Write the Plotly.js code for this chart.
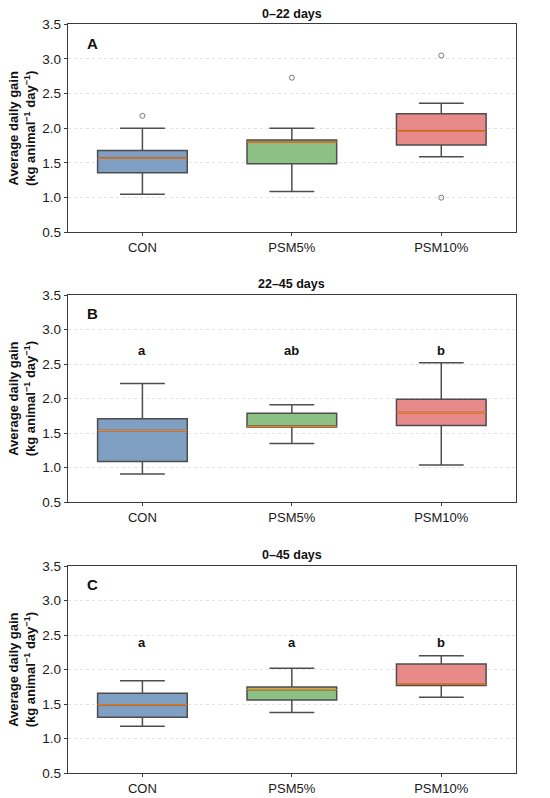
<!DOCTYPE html>
<html>
<head>
<meta charset="utf-8">
<script src="https://cdn.plot.ly/plotly-3.0.1.min.js"></script>
<style>html,body{margin:0;padding:0;background:#fff;}#chart{width:550px;height:798px;}</style>
</head>
<body>
<div id="chart"></div>
<script>
// ---- data ----
const categories = ['CON', 'PSM5%', 'PSM10%'];
const panelTitles = ['0\u201322 days', '22\u201345 days', '0\u201345 days'];
const panelLetters = ['A', 'B', 'C'];

// Panel A: 0–22 days
const A_lower  = [1.05, 1.09, 1.59];
const A_q1     = [1.36, 1.49, 1.76];
const A_median = [1.57, 1.80, 1.96];
const A_q3     = [1.68, 1.83, 2.21];
const A_upper  = [2.00, 2.00, 2.36];
const A_outX   = ['CON', 'PSM5%', 'PSM10%', 'PSM10%'];
const A_outY   = [2.18, 2.73, 3.05, 1.00];
const A_sig    = [];
const A_sigY   = null;

// Panel B: 22–45 days
const B_lower  = [0.91, 1.35, 1.04];
const B_q1     = [1.09, 1.59, 1.61];
const B_median = [1.54, 1.60, 1.80];
const B_q3     = [1.71, 1.79, 1.99];
const B_upper  = [2.22, 1.91, 2.52];
const B_outX   = [];
const B_outY   = [];
const B_sig    = ['a', 'ab', 'b'];
const B_sigY   = 2.70;

// Panel C: 0–45 days
const C_lower  = [1.18, 1.38, 1.60];
const C_q1     = [1.31, 1.56, 1.77];
const C_median = [1.49, 1.71, 1.79];
const C_q3     = [1.66, 1.75, 2.08];
const C_upper  = [1.84, 2.02, 2.20];
const C_outX   = [];
const C_outY   = [];
const C_sig    = ['a', 'a', 'b'];
const C_sigY   = 2.39;

const yTickVals = [0.5, 1.0, 1.5, 2.0, 2.5, 3.0, 3.5];

// ---- styling ----
const fills = ['#7F9FC3', '#8CC084', '#E8898A'];
const FONT = 'Liberation Sans, Arial, Helvetica, sans-serif';
const panels = [
  {lower: A_lower, q1: A_q1, med: A_median, q3: A_q3, upper: A_upper, outX: A_outX, outY: A_outY, sig: A_sig, sigY: A_sigY},
  {lower: B_lower, q1: B_q1, med: B_median, q3: B_q3, upper: B_upper, outX: B_outX, outY: B_outY, sig: B_sig, sigY: B_sigY},
  {lower: C_lower, q1: C_q1, med: C_median, q3: C_q3, upper: C_upper, outX: C_outX, outY: C_outY, sig: C_sig, sigY: C_sigY}
];

const W = 550, H = 798;
const xDom = [67.7 / W, 516 / W];
const panelPx = [[24.3, 232.3], [295, 502.3], [566, 773.3]];
const titlePx = [14, 284, 555];

const traces = [];
const layout = {
  width: W, height: H,
  margin: {l: 0, r: 0, t: 0, b: 0},
  paper_bgcolor: '#ffffff', plot_bgcolor: '#ffffff',
  showlegend: false,
  boxmode: 'overlay',
  font: {family: FONT, color: '#1a1a1a', size: 13},
  annotations: []
};

panels.forEach((p, i) => {
  const n = i + 1;
  const xa = n === 1 ? 'x' : 'x' + n;
  const ya = n === 1 ? 'y' : 'y' + n;
  categories.forEach((c, j) => {
    traces.push({
      type: 'box', xaxis: xa, yaxis: ya,
      x: [c], q1: [p.q1[j]], median: [p.med[j]], q3: [p.q3[j]],
      lowerfence: [p.lower[j]], upperfence: [p.upper[j]],
      fillcolor: fills[j], line: {color: '#4d4d4d', width: 1.5},
      width: 0.6, whiskerwidth: 0.5, boxpoints: false, hoverinfo: 'skip'
    });
  });
  // median lines (orange) drawn as flat boxes
  traces.push({
    type: 'box', xaxis: xa, yaxis: ya,
    x: categories, q1: p.med, median: p.med, q3: p.med,
    lowerfence: p.med, upperfence: p.med,
    fillcolor: 'rgba(0,0,0,0)', line: {color: '#FF7F0E', width: 1.2},
    width: 0.6, whiskerwidth: 0, boxpoints: false, hoverinfo: 'skip'
  });
  if (p.outY.length) {
    traces.push({
      type: 'scatter', mode: 'markers', xaxis: xa, yaxis: ya,
      x: p.outX, y: p.outY,
      marker: {symbol: 'circle-open', size: 5, color: '#777', line: {width: 1, color: '#777'}},
      hoverinfo: 'skip'
    });
  }
  const top = panelPx[i][0], bot = panelPx[i][1];
  layout['xaxis' + (n === 1 ? '' : n)] = {
    domain: xDom, anchor: ya, type: 'category',
    categoryorder: 'array', categoryarray: categories,
    range: [-0.5, 2.5], showgrid: false, zeroline: false,
    showline: true, mirror: true, linecolor: '#3a3a3a', linewidth: 1,
    ticks: 'outside', ticklen: 3, tickwidth: 1, tickcolor: '#3a3a3a',
    tickfont: {size: 13, color: '#1a1a1a', family: FONT}, fixedrange: true
  };
  layout['yaxis' + (n === 1 ? '' : n)] = {
    domain: [(H - bot) / H, (H - top) / H], anchor: xa,
    range: [0.5, 3.5], tickvals: yTickVals, tickformat: '.1f',
    showgrid: true, gridcolor: '#dcdcdc', gridwidth: 0.8, griddash: 'dot',
    zeroline: false,
    showline: true, mirror: true, linecolor: '#3a3a3a', linewidth: 1,
    ticks: 'outside', ticklen: 3, tickwidth: 1, tickcolor: '#3a3a3a',
    tickfont: {size: 13.5, color: '#1a1a1a', family: FONT}, fixedrange: true,
    title: {text: '<b>Average daily gain<br>(kg animal<sup>\u22121</sup> day<sup>\u22121</sup>)</b>',
            font: {size: 13, color: '#111', family: FONT}, standoff: 3}
  };
  layout.annotations.push({
    xref: 'paper', yref: 'paper', x: (xDom[0] + xDom[1]) / 2, y: (H - titlePx[i]) / H,
    xanchor: 'center', yanchor: 'middle', showarrow: false,
    text: '<b>' + panelTitles[i] + '</b>', font: {size: 12.5, color: '#111', family: FONT}
  });
  layout.annotations.push({
    xref: xa, yref: ya, x: -0.333, y: 3.23, xanchor: 'center', yanchor: 'middle',
    showarrow: false, text: '<b>' + panelLetters[i] + '</b>',
    font: {size: 15, color: '#111', family: FONT}
  });
  p.sig.forEach((s, j) => {
    layout.annotations.push({
      xref: xa, yref: ya, x: categories[j], y: p.sigY, xanchor: 'center', yanchor: 'middle',
      showarrow: false, text: '<b>' + s + '</b>', font: {size: 13, color: '#111', family: FONT}
    });
  });
});

Plotly.newPlot('chart', traces, layout, {staticPlot: true, displayModeBar: false});
</script>
</body>
</html>
